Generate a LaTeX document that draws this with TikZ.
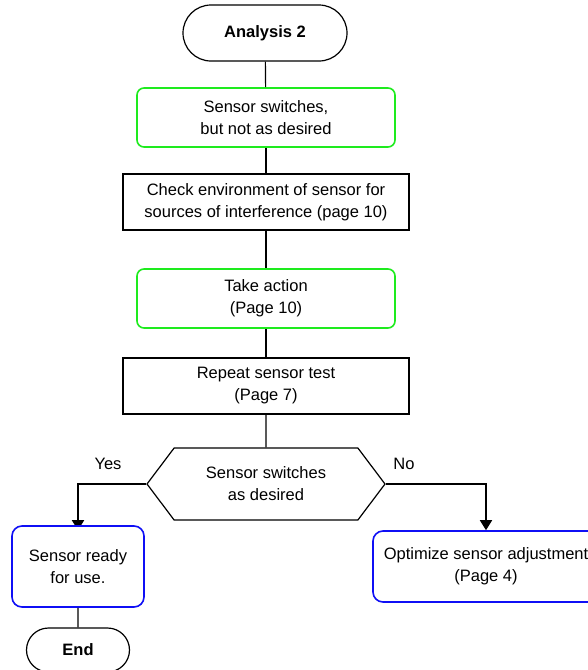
\documentclass[tikz,border=0pt]{standalone}
\usepackage{fontspec}
\setmainfont{Liberation Sans}
\usetikzlibrary{arrows.meta,shapes.misc,shapes.symbols,backgrounds}
\definecolor{okgreen}{RGB}{30,235,30}
\definecolor{infoblue}{RGB}{15,15,245}

\begin{document}
\fontsize{16.5}{22}\selectfont
\begin{tikzpicture}[x=1pt,y=-1pt,line width=1.2pt]
  \tikzset{term/.style = {draw, rounded rectangle, font=\bfseries, inner sep=0pt},
    stepbox/.style = {draw, align=center, inner sep=0pt, minimum width=286pt, minimum height=56pt},
    greenbox/.style = {draw=okgreen, line width=1.6pt, rounded corners=7pt, align=center, inner sep=0pt, minimum width=258pt, minimum height=59pt},
    bluebox/.style = {draw=infoblue, fill=white, line width=1.6pt, rounded corners=10pt, align=center, inner sep=0pt},
    flow/.style = {line width=1.7pt, -{Triangle[width=12pt,length=10pt]}}}
  \useasboundingbox (0,0) rectangle (588,670);
  \node[term, minimum width=164pt, minimum height=56pt] (start) at (265,33) {Analysis 2};
  \node[greenbox] (wrong) at (266,117.5) {Sensor switches,\\but not as desired};
  \node[stepbox] (check) at (266,202) {Check environment of sensor for\\sources of interference (page 10)};
  \node[greenbox] (action) at (266,298.5) {Take action\\(Page 10)};
  \node[stepbox] (retest) at (266,386) {Repeat sensor test\\(Page 7)};
  \node[draw, signal, signal to=east and west, signal pointer angle=106, align=center, inner sep=0pt,
    minimum width=238pt, minimum height=72pt] (ok) at (266,484) {Sensor switches\\as desired};
  \node[bluebox, minimum width=132pt, minimum height=81pt] (ready) at (78,566.5) {Sensor ready\\for use.};
  \node[bluebox, minimum width=226pt, minimum height=71pt] (adjust) at (486,566.5) {Optimize sensor adjustment\\(Page 4)};
  \node[term, minimum width=103pt, minimum height=44pt] (stop) at (78,650) {End};
  \node (yes) at (108,464) {Yes};
  \node (no) at (404,464) {No};
  % main line
  \draw (start) -- (wrong);
  \draw (wrong) -- (check);
  \draw (check) -- (action);
  \draw (action) -- (retest);
  \draw (retest) -- (ok);
  % branches
  \begin{scope}[on background layer]
    \draw[flow] (ok.west) -| ([yshift=-5pt]ready.north);
  \end{scope}
  \draw[flow] (ok.east) -| (adjust.north);
  \draw (ready) -- (stop);
\end{tikzpicture}
\end{document}
